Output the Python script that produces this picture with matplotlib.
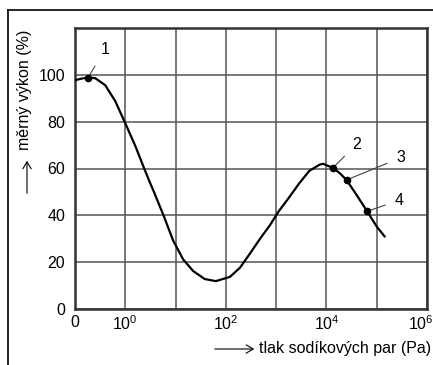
import matplotlib
matplotlib.use("Agg")
import matplotlib.pyplot as plt
import matplotlib.transforms as mtransforms
from matplotlib.lines import Line2D
from matplotlib.patches import FancyArrowPatch

plt.rcParams["font.family"] = ["Liberation Sans", "DejaVu Sans"]
plt.rcParams["mathtext.fontset"] = "custom"
plt.rcParams["mathtext.rm"] = "Liberation Sans"

# krivka: log10(tlak v Pa), merny vykon v %
log_p = [-1.00, -0.87, -0.74, -0.60, -0.40, -0.20, 0.00, 0.20, 0.38, 0.49,
         0.56, 0.76, 0.95, 1.15, 1.35, 1.58, 1.80, 2.08, 2.28, 2.48,
         2.68, 2.88, 3.05, 3.27, 3.46, 3.66, 3.87, 3.94, 4.00, 4.13,
         4.27, 4.40, 4.60, 4.81, 5.00, 5.16]
vykon = [97.7, 98.4, 98.8, 98.6, 95.6, 88.8, 79.3, 69.6, 59.8, 54.0,
         50.5, 40.0, 29.3, 21.2, 16.2, 12.8, 11.9, 13.7, 17.6, 23.7,
         30.0, 35.9, 41.7, 48.0, 53.7, 59.0, 61.7, 62.0, 61.4, 60.3,
         57.9, 55.1, 48.7, 41.7, 35.2, 30.9]

# oznacene body
bod_log = [-0.74, 4.13, 4.40, 4.81]
bod_vykon = [98.8, 60.3, 55.1, 41.7]
bod_popis = ["1", "2", "3", "4"]

x_ticks = [-1, 0, 1, 2, 3, 4, 5, 6]
x_labels = ["0", r"$\mathregular{10^0}$", "", r"$\mathregular{10^2}$", "",
            r"$\mathregular{10^4}$", "", r"$\mathregular{10^6}$"]
y_ticks = [0, 20, 40, 60, 80, 100, 120]
y_labels = ["0", "20", "40", "60", "80", "100", ""]

fig = plt.figure(figsize=(4.33, 3.65), dpi=100)
ax = fig.add_axes([75 / 433, 56 / 365, 352 / 433, 281 / 365])

ax.plot(log_p, vykon, color="black", lw=1.6, zorder=3,
        solid_capstyle="round", solid_joinstyle="round")
ax.plot(bod_log, bod_vykon, "o", color="black", ms=4.5, zorder=4)

# popisky bodu (odsazeni v bodech)
offsets = [(12, 20), (17, 17), (39, 16), (23, 8)]
for xl, yl, txt, off in zip(bod_log, bod_vykon, bod_popis, offsets):
    ax.annotate(txt, (xl, yl), xytext=off, textcoords="offset points",
                fontsize=11.5, ha="center", va="center",
                arrowprops=dict(arrowstyle="-", color="#444444", lw=0.8,
                                shrinkA=5, shrinkB=1))

ax.set_xlim(-1, 6)
ax.set_ylim(0, 120)
ax.set_xticks(x_ticks)
ax.set_xticklabels(x_labels)
ax.set_yticks(y_ticks)
ax.set_yticklabels(y_labels)
ax.tick_params(length=0, labelsize=11.5)
ax.tick_params(axis="y", pad=7)
ax.tick_params(axis="x", pad=4)
ax.grid(True, color="#555555", lw=1.1)
ax.set_axisbelow(True)
for s in ax.spines.values():
    s.set_color("#333333")
    s.set_linewidth(1.8)

# posledni popisek osy x je v originale mirne vlevo
posun = mtransforms.ScaledTranslation(-6 / 100, 0, fig.dpi_scale_trans)
lbl = ax.get_xticklabels()[-1]
lbl.set_transform(lbl.get_transform() + posun)

# osove popisky se sipkami
fig.text(25 / 433, 1 - 90 / 365, "měrný výkon (%)", rotation=90,
         ha="center", va="center", fontsize=11.5)
fig.add_artist(FancyArrowPatch(
    (27 / 433, 1 - 196 / 365), (27 / 433, 1 - 158 / 365),
    transform=fig.transFigure, arrowstyle="->,head_length=5,head_width=3",
    color="black", lw=0.8))
fig.text(259 / 433, 1 - 348 / 365, "tlak sodíkových par (Pa)",
         ha="left", va="center", fontsize=11.5)
fig.add_artist(FancyArrowPatch(
    (212 / 433, 1 - 349 / 365), (257 / 433, 1 - 349 / 365),
    transform=fig.transFigure, arrowstyle="->,head_length=5,head_width=3",
    color="black", lw=0.8))

# vnejsi ramecek
fig.add_artist(Line2D([8 / 433, 1], [1 - 10 / 365, 1 - 10 / 365],
                      transform=fig.transFigure, color="black", lw=1.2))
fig.add_artist(Line2D([8 / 433, 8 / 433], [0, 1 - 10 / 365],
                      transform=fig.transFigure, color="black", lw=1.2))

fig.savefig("out.png", dpi=100)
